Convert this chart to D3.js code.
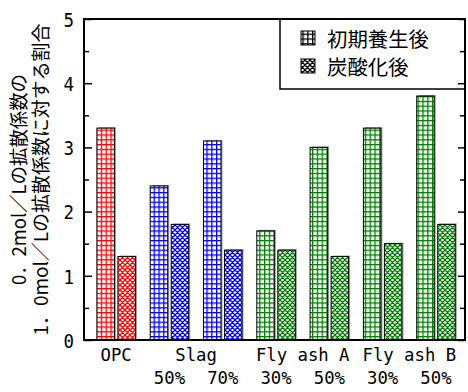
<!DOCTYPE html>
<html><head><meta charset="utf-8">
<script src="https://cdn.jsdelivr.net/npm/d3@7"></script>
<style>body{margin:0;background:#fff}</style>
</head><body><svg id="c" width="468" height="392"></svg>
<script>
// ---- data ----
const categories = ["OPC","Slag 50%","Slag 70%","Fly ash A 30%","Fly ash A 50%","Fly ash B 30%","Fly ash B 50%"];
const initialCuring = [3.3, 2.4, 3.1, 1.7, 3.0, 3.3, 3.8];
const afterCarbonation = [1.3, 1.8, 1.4, 1.4, 1.3, 1.5, 1.8];
const materialLabels = ["OPC", "Slag", "Fly ash A", "Fly ash B"];
const materialSpans = [[0,0],[1,2],[3,4],[5,6]];
const ratioLabels = ["", "50%", "70%", "30%", "50%", "30%", "50%"];
const seriesNames = ["初期養生後", "炭酸化後"];
const yTicks = [0,1,2,3,4,5];
const yMinorTicks = [0.5,1.5,2.5,3.5,4.5];
const yTitleLines = ["0．2mol／Lの拡散係数の", "1．0mol／Lの拡散係数に対する割合"];

// ---- style ----
const groupColor = ["#ff0000","#0000ff","#0000ff","#008000","#008000","#008000","#008000"];
const L = 84, R = 465, T = 19, B = 340;

const svg = d3.select("#c");
const defs = svg.append("defs");
const colorsUsed = Array.from(new Set(groupColor.concat(["#000000"])));
const pid = c => c.replace("#","");
colorsUsed.forEach(c => {
  const g = defs.append("pattern").attr("id","grid"+pid(c)).attr("patternUnits","userSpaceOnUse")
    .attr("width",4.8).attr("height",4.8);
  g.append("rect").attr("width",4.8).attr("height",4.8).attr("fill","#fff");
  g.append("rect").attr("x",0).attr("y",0).attr("width",1.3).attr("height",4.8).attr("fill",c);
  g.append("rect").attr("x",0).attr("y",0).attr("width",4.8).attr("height",1.3).attr("fill",c);
  const h = defs.append("pattern").attr("id","hatch"+pid(c)).attr("patternUnits","userSpaceOnUse")
    .attr("width",5).attr("height",5);
  h.append("rect").attr("width",5).attr("height",5).attr("fill","#fff");
  let d = "";
  for (let k=-1;k<=1;k++){ d += `M${5*k-1},-1L${5*k+6},6 M-1,${5*k+1}L6,${5*k-6} `; }
  h.append("path").attr("d",d).attr("stroke",c).attr("stroke-width",1.25).attr("fill","none");
});

const x = d3.scaleBand().domain(categories).range([89.5, 462.6]).padding(0);
const y = d3.scaleLinear().domain([0,5]).range([B,T]);
const bw = 17.5, gap = 3.5;

const bars = svg.append("g");
categories.forEach((cat,i) => {
  const c = x(cat) + x.bandwidth()/2;
  const vals = [initialCuring[i], afterCarbonation[i]];
  vals.forEach((v,j) => {
    const bx = j===0 ? c - gap/2 - bw : c + gap/2;
    bars.append("rect").attr("x",bx+1.5).attr("y",y(v)-1).attr("width",bw).attr("height",B-y(v)+1)
      .attr("fill","#999");
    bars.append("rect").attr("x",bx).attr("y",y(v)).attr("width",bw).attr("height",B-y(v))
      .attr("fill",`url(#${j===0?"grid":"hatch"}${pid(groupColor[i])})`)
      .attr("stroke","#000").attr("stroke-width",1);
  });
});

// legend
const lg = svg.append("g");
lg.append("rect").attr("x",280).attr("y",T).attr("width",R-280).attr("height",70)
  .attr("fill","#fff").attr("stroke","#000").attr("stroke-width",1.5);
seriesNames.forEach((s,j) => {
  const cy = j===0 ? 38 : 66;
  lg.append("rect").attr("x",301).attr("y",cy-7).attr("width",14).attr("height",14)
    .attr("fill",`url(#${j===0?"grid":"hatch"}000000)`).attr("stroke","#000").attr("stroke-width",1);
  lg.append("text").attr("x",327).attr("y",cy).attr("dominant-baseline","central")
    .attr("font-family","Noto Sans CJK JP").attr("font-size",20)
    .attr("textLength", s.length*20.4).attr("lengthAdjust","spacingAndGlyphs").text(s);
});

// axes
const fontNum = "DejaVu Sans Mono";
const axL = svg.append("g").attr("transform",`translate(${L},0)`)
  .call(d3.axisLeft(y).tickValues(yTicks).tickSize(-8).tickPadding(10).tickFormat(d3.format("d")));
axL.selectAll("text").attr("font-family",fontNum).attr("font-size",20).attr("dy","0.36em")
  .attr("textLength",10.5).attr("lengthAdjust","spacingAndGlyphs");
svg.append("g").attr("transform",`translate(${L},0)`)
  .call(d3.axisLeft(y).tickValues(yMinorTicks).tickSize(-5).tickFormat(""));
svg.append("g").attr("transform",`translate(${R},0)`)
  .call(d3.axisRight(y).tickValues(yTicks).tickSize(-7).tickFormat(""));
svg.append("g").attr("transform",`translate(${R},0)`)
  .call(d3.axisRight(y).tickValues(yMinorTicks).tickSize(-5).tickFormat(""));
svg.selectAll(".domain").remove();
svg.selectAll(".tick line").attr("stroke","#000").attr("stroke-width",1.5);

svg.append("rect").attr("x",L).attr("y",T).attr("width",R-L).attr("height",B-T)
  .attr("fill","none").attr("stroke","#000").attr("stroke-width",2);

// category labels
materialLabels.forEach((m,k) => {
  const [a,b] = materialSpans[k];
  const cx = (x(categories[a]) + x(categories[b]) + x.bandwidth())/2;
  svg.append("text").attr("x",cx).attr("y",361).attr("text-anchor","middle")
    .attr("font-family",fontNum).attr("font-size",18)
    .attr("textLength", m.length*10.4).attr("lengthAdjust","spacingAndGlyphs").text(m);
});
ratioLabels.forEach((r,i) => {
  if (!r) return;
  svg.append("text").attr("x",x(categories[i])+x.bandwidth()/2).attr("y",384).attr("text-anchor","middle")
    .attr("font-family",fontNum).attr("font-size",18)
    .attr("textLength", r.length*10.4).attr("lengthAdjust","spacingAndGlyphs").text(r);
});

// y title
const titleX = [17.5, 39.5], titleLen = [211, 312];
yTitleLines.forEach((t,k) => {
  svg.append("text").attr("transform",`translate(${titleX[k]},${(T+B)/2}) rotate(-90)`)
    .attr("text-anchor","middle").attr("dominant-baseline","central")
    .attr("font-family","Noto Sans CJK JP").attr("font-size",19)
    .attr("textLength",titleLen[k]).attr("lengthAdjust","spacingAndGlyphs").text(t);
});
</script></body></html>
